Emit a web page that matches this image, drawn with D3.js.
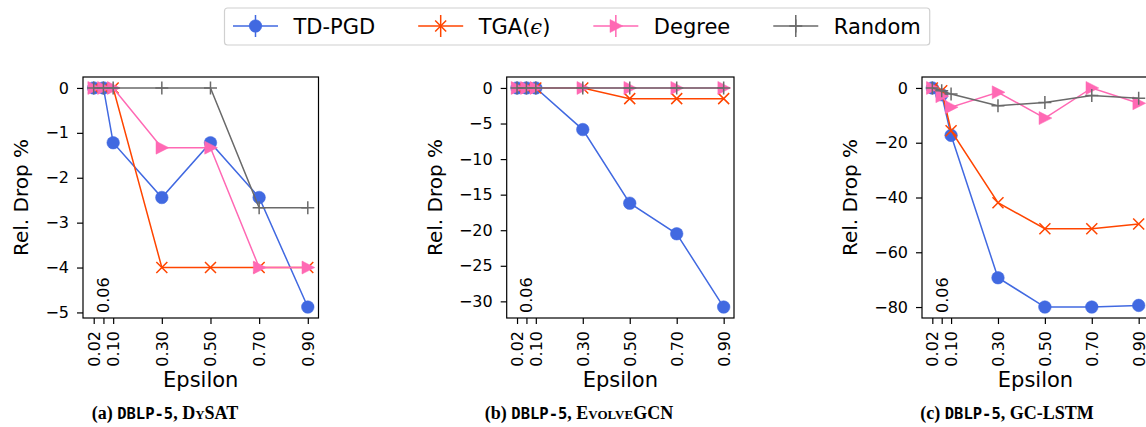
<!DOCTYPE html>
<html>
<head>
<meta charset="utf-8">
<script src="https://d3js.org/d3.v7.min.js"></script>
<style>
  body { margin: 0; background: #fff; }
  text { font-family: "DejaVu Sans", sans-serif; fill: #000; }
</style>
</head>
<body>
<svg id="chart" width="1146" height="427"></svg>
<script>
// x values shared by all three panels
var epsilon = [0.02, 0.06, 0.10, 0.30, 0.50, 0.70, 0.90];
var epsilonLabels = ["0.02", "0.06", "0.10", "0.30", "0.50", "0.70", "0.90"];

var methods = ["TD-PGD", "TGA", "Degree", "Random"];
var colors = ["#4169e1", "#ff4500", "#ff69b4", "#6a6a6a"];
var markers = ["circle", "x", "triangle", "plus"];

// (a) DBLP-5, DySAT
var dysatTdpgd  = [0, 0, -1.22, -2.44, -1.22, -2.44, -4.88];
var dysatTga    = [0, 0, 0, -4, -4, -4, -4];
var dysatDegree = [0, 0, 0, -1.33, -1.33, -4, -4];
var dysatRandom = [0, 0, 0, 0, 0, -2.67, -2.67];
var dysatTicks  = [0, -1, -2, -3, -4, -5];

// (b) DBLP-5, EvolveGCN
var evolveTdpgd  = [0, 0, 0, -5.85, -16.2, -20.5, -30.8];
var evolveTga    = [0, 0, 0, 0, -1.5, -1.5, -1.5];
var evolveDegree = [0, 0, 0, 0, 0, 0, 0];
var evolveRandom = [0, 0, 0, 0, 0, 0, 0];
var evolveTicks  = [0, -5, -10, -15, -20, -25, -30];

// (c) DBLP-5, GC-LSTM
var gclstmTdpgd  = [0, -2.5, -17.3, -69.3, -80, -80, -79.4];
var gclstmTga    = [0, -1, -15.6, -41.9, -51.4, -51.4, -49.7];
var gclstmDegree = [0, -3, -7, -1.6, -11, 0, -5.6];
var gclstmRandom = [0, -1, -2.2, -6.5, -5.3, -2.8, -3.8];
var gclstmTicks  = [0, -20, -40, -60, -80];

var captions = [
  [["(a) ", "serif"], ["DBLP-5", "mono"], [", ", "serif"], ["DySAT", "sc"]],
  [["(b) ", "serif"], ["DBLP-5", "mono"], [", ", "serif"], ["EvolveGCN", "sc"]],
  [["(c) ", "serif"], ["DBLP-5", "mono"], [", ", "serif"], ["GC-LSTM", "serif"]]
];

var panels = [
  { series: [dysatTdpgd, dysatTga, dysatDegree, dysatRandom], ticks: dysatTicks, left: 83, right: 318.5, capX: 165 },
  { series: [evolveTdpgd, evolveTga, evolveDegree, evolveRandom], ticks: evolveTicks, left: 506.7, right: 734, capX: 579 },
  { series: [gclstmTdpgd, gclstmTga, gclstmDegree, gclstmRandom], ticks: gclstmTicks, left: 922, right: 1149, capX: 1007 }
];

var plotTop = 77, plotBottom = 318;
var svg = d3.select("#chart");

function markerPath(type) {
  if (type == "circle") return d3.symbol().type(d3.symbolCircle).size(Math.PI * 6.3 * 6.3)();
  if (type == "x") return "M-5.5,-5.5L5.5,5.5M-5.5,5.5L5.5,-5.5";
  if (type == "triangle") return "M-5.8,-6.5L7,0L-5.8,6.5Z";
  return "M-6.5,0H6.5M0,-6.5V6.5";
}
function isFilled(type) { return type == "circle" || type == "triangle"; }

// x margin like matplotlib autoscale (5%)
var xExt = d3.extent(epsilon);
var xPad = (xExt[1] - xExt[0]) * 0.05;

panels.forEach(function(p, pi) {
  var all = d3.merge(p.series);
  var yExt = d3.extent(all);
  var yPad = (yExt[1] - yExt[0]) * 0.05;

  var x = d3.scaleLinear().domain([xExt[0] - xPad, xExt[1] + xPad]).range([p.left, p.right]);
  var y = d3.scaleLinear().domain([yExt[0] - yPad, yExt[1] + yPad]).range([plotBottom, plotTop]);

  var g = svg.append("g");
  var clipId = "clip" + pi;
  g.append("clipPath").attr("id", clipId).append("rect")
    .attr("x", p.left).attr("y", plotTop).attr("width", p.right - p.left).attr("height", plotBottom - plotTop);

  // y axis
  var yAxis = g.append("g").attr("transform", "translate(" + p.left + ",0)")
    .call(d3.axisLeft(y).tickValues(p.ticks).tickSize(6).tickPadding(8)
      .tickFormat(function(d) { return d3.format("d")(d).replace("-", "\u2212"); }));
  yAxis.select(".domain").remove();
  yAxis.selectAll("line").attr("stroke", "#000").attr("stroke-width", 1.2);
  yAxis.selectAll("text").attr("font-size", 16).attr("font-family", "DejaVu Sans");

  // x axis
  var xAxis = g.append("g").attr("transform", "translate(0," + plotBottom + ")")
    .call(d3.axisBottom(x).tickValues(epsilon).tickSize(6).tickPadding(0)
      .tickFormat(function(d, i) { return epsilonLabels[i]; }));
  xAxis.select(".domain").remove();
  xAxis.selectAll("line").attr("stroke", "#000").attr("stroke-width", 1.2);
  xAxis.selectAll("text")
    .attr("font-size", 16).attr("font-family", "DejaVu Sans")
    .attr("dy", null)
    .attr("text-anchor", function(d, i) { return i == 1 ? "start" : "end"; })
    .attr("dominant-baseline", "central")
    .attr("transform", function(d, i) {
      return i == 1 ? "translate(0,-5) rotate(-90)" : "translate(0,13) rotate(-90)";
    })
    .attr("y", 0).attr("x", 0);

  // series
  var plot = g.append("g").attr("clip-path", "url(#" + clipId + ")");
  p.series.forEach(function(vals, si) {
    var pts = vals.map(function(v, i) { return [x(epsilon[i]), y(v)]; });
    plot.append("path")
      .attr("d", d3.line()(pts))
      .attr("fill", "none")
      .attr("stroke", colors[si])
      .attr("stroke-width", 1.5);
    plot.selectAll(".m" + si).data(pts).enter().append("path")
      .attr("transform", function(d) { return "translate(" + d[0] + "," + d[1] + ")"; })
      .attr("d", markerPath(markers[si]))
      .attr("fill", isFilled(markers[si]) ? colors[si] : "none")
      .attr("stroke", colors[si])
      .attr("stroke-width", isFilled(markers[si]) ? 0.5 : 1.5);
  });

  // frame
  g.append("rect").attr("x", p.left).attr("y", plotTop)
    .attr("width", p.right - p.left).attr("height", plotBottom - plotTop)
    .attr("fill", "none").attr("stroke", "#000").attr("stroke-width", 1.2);

  // y label position from widest tick label
  var minX = d3.min(yAxis.selectAll("text").nodes(), function(n) {
    return p.left + n.getBBox().x;
  });
  g.append("text")
    .attr("transform", "translate(" + (minX - 17) + "," + ((plotTop + plotBottom) / 2) + ") rotate(-90)")
    .attr("text-anchor", "middle")
    .attr("font-size", 20)
    .text("Rel. Drop %");

  g.append("text")
    .attr("x", (p.left + p.right) / 2).attr("y", 387)
    .attr("text-anchor", "middle")
    .attr("font-size", 21)
    .text("Epsilon");

  // caption
  var cap = g.append("text").attr("x", p.capX).attr("y", 419).attr("text-anchor", "middle")
    .attr("font-weight", "bold");
  captions[pi].forEach(function(part) {
    var t = cap.append("tspan").text(part[0]);
    if (part[1] == "mono") t.attr("font-family", "DejaVu Sans Mono").attr("font-size", 15.5);
    else {
      t.attr("font-family", "Liberation Serif").attr("font-size", 18);
      if (part[1] == "sc") t.attr("font-variant", "small-caps");
    }
  });
});

// legend
var legend = svg.append("g");
var box = legend.append("rect")
  .attr("y", 8).attr("height", 37).attr("rx", 3)
  .attr("fill", "#fff").attr("stroke", "#d0d0d0").attr("stroke-width", 1.2);
var lx = 233, ly = 26;
methods.forEach(function(name, i) {
  legend.append("line").attr("x1", lx).attr("x2", lx + 45).attr("y1", ly).attr("y2", ly)
    .attr("stroke", colors[i]).attr("stroke-width", 1.5);
  legend.append("line").attr("x1", lx + 22.5).attr("x2", lx + 22.5).attr("y1", ly - 11).attr("y2", ly + 11)
    .attr("stroke", colors[i]).attr("stroke-width", 1.5);
  legend.append("path").attr("transform", "translate(" + (lx + 22.5) + "," + ly + ")")
    .attr("d", markerPath(markers[i]))
    .attr("fill", isFilled(markers[i]) ? colors[i] : "none")
    .attr("stroke", colors[i]).attr("stroke-width", isFilled(markers[i]) ? 0.5 : 1.5);
  var t = legend.append("text").attr("x", lx + 60.5).attr("y", ly).attr("dy", "0.36em")
    .attr("font-size", 21);
  if (name == "TGA") {
    t.append("tspan").text("TGA(");
    t.append("tspan").attr("font-family", "DejaVu Serif").attr("font-style", "italic").text("\u03f5");
    t.append("tspan").text(")");
  } else {
    t.text(name);
  }
  var w = t.node().getComputedTextLength();
  lx = lx + 60.5 + w + 43;
});
box.attr("x", 224.5).attr("width", lx - 43 + 9 - 224.5);
</script>
</body>
</html>
